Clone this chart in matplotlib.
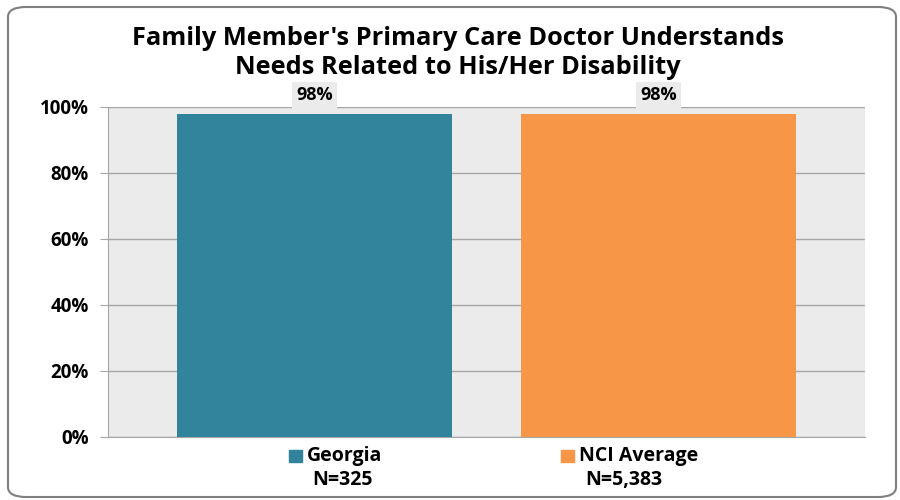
import matplotlib.pyplot as plt
from matplotlib.patches import FancyBboxPatch, Rectangle

categories = ['Georgia', 'NCI Average']
values = [98, 98]
n_labels = ['N=325', 'N=5,383']
colors = ['#31849b', '#f79646']
title = "Family Member's Primary Care Doctor Understands\nNeeds Related to His/Her Disability"

plt.rcParams['font.family'] = ['Open Sans', 'DejaVu Sans']
plt.rcParams['font.weight'] = 'bold'

fig = plt.figure(figsize=(9, 5), dpi=100)
ax = fig.add_axes([108/900, 1-437/500, (865-108)/900, (437-107)/500])
ax.set_facecolor('#ebebeb')

x = range(len(categories))
ax.bar(x, values, width=0.8, color=colors, zorder=3)
for xi, v in zip(x, values):
    ax.text(xi, v + 5.6, f'{v}%', ha='center', va='center', fontsize=13, fontweight='bold',
            bbox=dict(boxstyle='square,pad=0.25', fc='#ebebeb', ec='none'), zorder=4,
            clip_on=False)

ax.set_xlim(-0.6, 1.6)
ax.set_ylim(0, 100)
ax.set_yticks(range(0, 101, 20))
ax.set_yticklabels([f'{t}%' for t in range(0, 101, 20)], fontsize=13.5, fontweight='bold')
ax.yaxis.grid(True, color='#a6a6a6', lw=1, zorder=1)
ax.tick_params(axis='y', length=6, color='#a6a6a6', pad=8)
ax.set_xticks([])
for s in ['top', 'right']:
    ax.spines[s].set_visible(False)
for s in ['left', 'bottom']:
    ax.spines[s].set_color('#a6a6a6')

fig.text(458/900, 1-53/500, title, ha='center', va='center', fontsize=18.3,
         fontweight='bold', linespacing=1.22)

# legend entries below the plot
sq_x = [289, 561]
n_x = [343, 624]
for name, nl, c, sx, nx in zip(categories, n_labels, colors, sq_x, n_x):
    fig.add_artist(Rectangle((sx / 900, 1-462/500), 13/900, 12/500,
                             color=c, transform=fig.transFigure))
    fig.text((sx + 18) / 900, 1-456/500, name, ha='left', va='center', fontsize=14, fontweight='bold')
    fig.text(nx / 900, 1-480/500, nl, ha='center', va='center', fontsize=14, fontweight='bold')

border = FancyBboxPatch((8/900, 3/500), 888/900, 490/500, boxstyle='round,pad=0,rounding_size=0.02',
                        fc='none', ec='#7f7f7f', lw=1.5, transform=fig.transFigure)
fig.add_artist(border)

fig.savefig('out.png', dpi=100)
